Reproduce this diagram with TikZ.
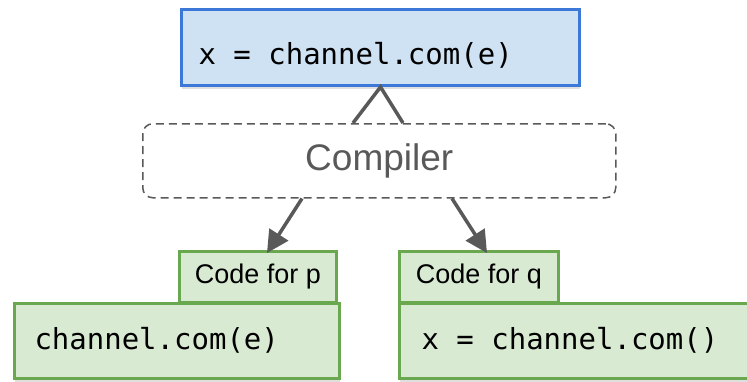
\documentclass[tikz,border=0pt]{standalone}
\usepackage{fontspec}
\setmainfont{Liberation Sans}
\newfontfamily\codefont{DejaVu Sans Mono}
\usetikzlibrary{arrows.meta,shadows}
\definecolor{bluefill}{HTML}{CFE2F3}
\definecolor{blueline}{HTML}{3C78D8}
\definecolor{greenfill}{HTML}{D9EAD3}
\definecolor{greenline}{HTML}{6AA84F}
\definecolor{darkgray}{HTML}{595959}
\newcommand{\codesize}{\codefont\fontsize{29}{34}\selectfont}
\newcommand{\msp}{\kern0.602em\relax}
\tikzset{
  codebox/.style={draw, line width=3pt, anchor=north west, align=left,
    inner ysep=0pt, font=\codesize,
    drop shadow={opacity=0.25, shadow xshift=0pt, shadow yshift=-3pt}},
  bluebox/.style={codebox, draw=blueline, fill=bluefill},
  greenbox/.style={codebox, draw=greenline, fill=greenfill},
  tabbox/.style={draw=greenline, fill=greenfill, line width=3pt, anchor=north west,
    inner sep=0pt, font=\fontsize{27}{30}\selectfont},
  compbox/.style={draw=darkgray, dash pattern=on 8pt off 5pt, line width=1.5pt,
    rounded corners=10pt, anchor=north west, inner sep=0pt, text=darkgray,
    font=\fontsize{37}{42}\selectfont},
  arr/.style={draw=darkgray, line width=3.5pt, -{Triangle[length=22pt,width=22pt]}},
  caret/.style={draw=darkgray, line width=3.5pt}
}
\begin{document}
\begin{tikzpicture}[x=1pt,y=-1pt]
\useasboundingbox (0,0) rectangle (747,381);
\clip (0,0) rectangle (747,381);
% top box
\node[bluebox, minimum height=76pt, text width=364pt, inner xsep=17pt,
  text height=40pt, text depth=6pt] (top) at (180,8) {x\msp=\msp channel.com(e)};
% compiler
\node[compbox, minimum width=473pt, minimum height=74pt] (comp) at (142,123) {Compiler};
% caret
\draw[caret] ([xshift=211pt]comp.north west) -- (top.south) -- ([xshift=261pt]comp.north west);
% tabs
\node[tabbox, minimum width=157pt, minimum height=51pt] (tabp) at (178,250) {Code for p};
\node[tabbox, minimum width=159pt, minimum height=51pt] (tabq) at (398,250) {Code for q};
% bottom boxes
\node[greenbox, minimum height=75pt, text width=285pt, inner xsep=20pt,
  text height=23pt, text depth=6pt] (boxp) at (13,302) {channel.com(e)};
\node[greenbox, minimum height=75pt, text width=340pt, inner xsep=22pt,
  text height=23pt, text depth=6pt] (boxq) at (398,302) {x\msp=\msp channel.com()};
% arrows
\draw[arr] ([xshift=160pt]comp.south west) -- ([xshift=89pt,yshift=-3pt]tabp.north west);
\draw[arr] ([xshift=310pt]comp.south west) -- ([xshift=89pt,yshift=-3pt]tabq.north west);
\end{tikzpicture}
\end{document}
